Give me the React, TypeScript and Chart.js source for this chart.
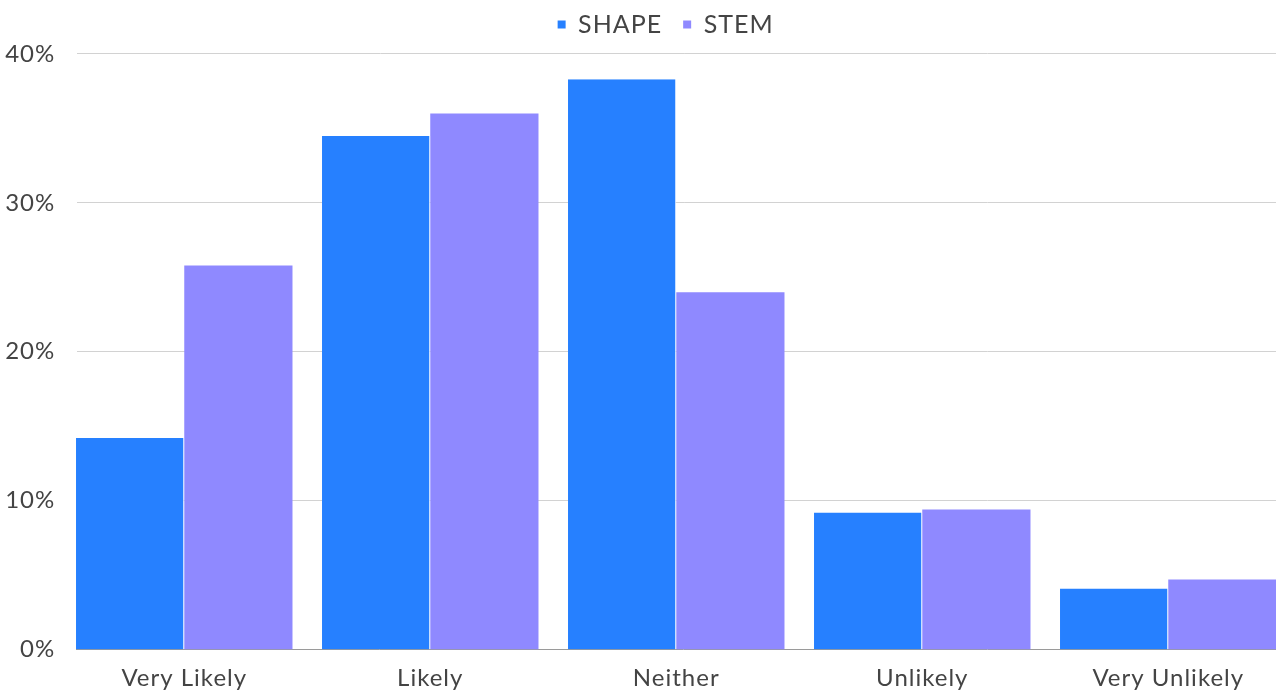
import { useEffect, useRef } from "react";
import { Chart, registerables } from "chart.js";

Chart.register(...registerables);

const categories = ["Very Likely", "Likely", "Neither", "Unlikely", "Very Unlikely"];
const seriesNames = ["SHAPE", "STEM"];
const shapeValues = [14.2, 34.5, 38.3, 9.2, 4.1];
const stemValues = [25.8, 36.0, 24.0, 9.4, 4.7];
const yTickValues = [0, 10, 20, 30, 40];

const FONT_FAMILY = "Lato, 'Open Sans', sans-serif";
const TEXT_COLOR = "#444444";
const SHAPE_COLOR = "#2680ff";
const STEM_COLOR = "#8f89ff";

// Slightly tracked-out text for all chart labels.
const letterSpacingPlugin = {
  id: "letterSpacing",
  beforeUpdate(chart: any) {
    chart.ctx.letterSpacing = "1px";
  },
  beforeDraw(chart: any) {
    chart.ctx.letterSpacing = "1px";
  },
};

// Nudges the legend block to its place above the plot.
const legendOffsetPlugin = {
  id: "legendOffset",
  afterLayout(chart: any) {
    const lg = chart.legend;
    if (!lg) return;
    const dx = 20;
    const dy = -7;
    lg.left += dx;
    lg.right += dx;
    lg.top += dy;
    lg.bottom += dy;
  },
};

// Horizontal gridlines that begin at the left edge of the first bar group,
// with a darker baseline at 0%.
const gridPlugin = {
  id: "groupGrid",
  beforeDatasetsDraw(chart: any) {
    const { ctx, chartArea, scales } = chart;
    const first = chart.getDatasetMeta(0).data[0] as any;
    if (!first) return;
    const x0 = Math.round(first.x - first.width / 2) + 1;
    ctx.save();
    ctx.lineWidth = 1;
    for (const v of yTickValues) {
      const y = Math.round(scales.y.getPixelForValue(v)) - 0.5;
      ctx.strokeStyle = v === 0 ? "#9a9a9a" : "#d2d2d2";
      ctx.beginPath();
      ctx.moveTo(v === 0 ? x0 - 1 : x0, y);
      ctx.lineTo(chartArea.right, y);
      ctx.stroke();
    }
    ctx.restore();
  },
};

export default function App() {
  const canvasRef = useRef<HTMLCanvasElement | null>(null);

  useEffect(() => {
    const canvas = canvasRef.current;
    if (!canvas) return;

    const chart = new Chart(canvas, {
      type: "bar",
      data: {
        labels: categories,
        datasets: [
          {
            label: seriesNames[0],
            data: shapeValues,
            backgroundColor: SHAPE_COLOR,
            borderColor: "#ffffff",
            borderWidth: { top: 0, right: 1, bottom: 0, left: 0 },
            borderSkipped: false,
          },
          {
            label: seriesNames[1],
            data: stemValues,
            backgroundColor: STEM_COLOR,
            borderWidth: 0,
          },
        ],
      },
      options: {
        responsive: false,
        animation: false,
        layout: { padding: { left: 0, right: 8.75, top: -2, bottom: 0 } },
        datasets: { bar: { categoryPercentage: 0.88, barPercentage: 1 } },
        plugins: {
          tooltip: { enabled: false },
          legend: {
            position: "top",
            labels: {
              boxWidth: 8,
              boxHeight: 8,
              padding: 21,
              color: TEXT_COLOR,
              font: { family: FONT_FAMILY, size: 25 },
              generateLabels: (c: any) =>
                Chart.defaults.plugins.legend.labels
                  .generateLabels(c)
                  .map((l: any) => ({ ...l, lineWidth: 0 })),
            },
          },
        },
        scales: {
          x: {
            grid: { display: false, drawTicks: false },
            border: { display: false },
            ticks: {
              color: TEXT_COLOR,
              font: { family: FONT_FAMILY, size: 24 },
              padding: 14,
              autoSkip: false,
              maxRotation: 0,
            },
            afterFit: (s: any) => {
              s.height = 43.5;
            },
          },
          y: {
            min: 0,
            max: 40,
            grid: { display: false, drawTicks: false },
            border: { display: false },
            ticks: {
              stepSize: 10,
              color: TEXT_COLOR,
              font: { family: FONT_FAMILY, size: 24 },
              padding: 6,
              callback: (v: any) => `${v}%`,
            },
            afterFit: (s: any) => {
              s.width = 61.25;
            },
          },
        },
      },
      plugins: [letterSpacingPlugin, legendOffsetPlugin, gridPlugin],
    });

    return () => chart.destroy();
  }, []);

  return (
    <div
      style={{
        position: "fixed",
        left: 0,
        top: 0,
        width: 1276,
        height: 693,
        overflow: "hidden",
        background: "#ffffff",
      }}
    >
      <canvas ref={canvasRef} width={1300} height={693} style={{ display: "block" }} />
    </div>
  );
}
